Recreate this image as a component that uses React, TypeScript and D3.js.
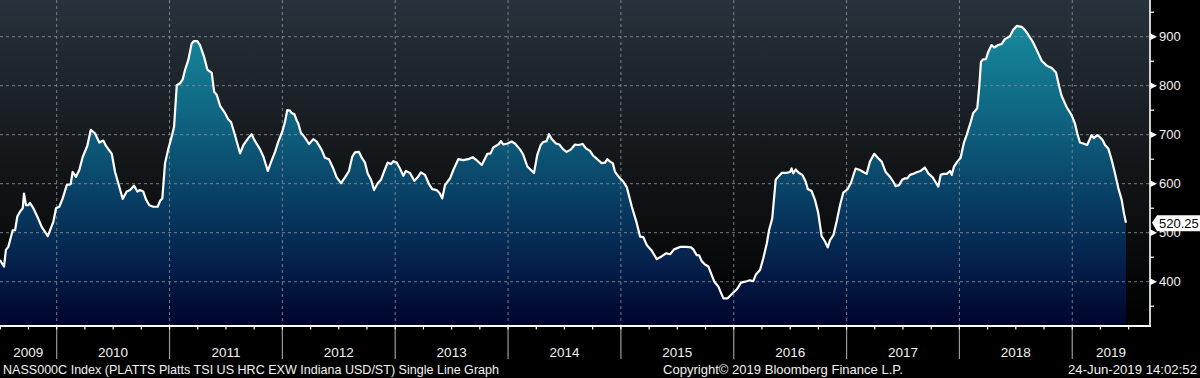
import React from "react";
import * as d3 from "d3";

// ---- data (decimal years, USD/ST) ----
const dates: number[] = [
  2009.497, 2009.533, 2009.55, 2009.571, 2009.61, 2009.631, 2009.651, 2009.675, 2009.699, 2009.71, 2009.728, 2009.748, 2009.763, 2009.793, 2009.828, 2009.867, 2009.921, 2009.97, 2009.994,
  2010.023, 2010.053, 2010.089, 2010.124, 2010.141, 2010.171, 2010.2, 2010.231, 2010.271, 2010.302, 2010.339, 2010.378, 2010.413, 2010.437, 2010.488, 2010.517, 2010.546, 2010.585, 2010.62, 2010.65, 2010.685, 2010.715, 2010.738, 2010.767, 2010.791, 2010.821, 2010.856, 2010.895, 2010.916, 2010.936, 2010.96, 2010.99,
  2011.019, 2011.04, 2011.064, 2011.093, 2011.117, 2011.137, 2011.166, 2011.196, 2011.217, 2011.246, 2011.27, 2011.306, 2011.335, 2011.374, 2011.395, 2011.419, 2011.448, 2011.492, 2011.521, 2011.545, 2011.575, 2011.625, 2011.655, 2011.698, 2011.728, 2011.752, 2011.802, 2011.832, 2011.871, 2011.906, 2011.935, 2011.964,
  2011.999, 2012.023, 2012.043, 2012.067, 2012.082, 2012.106, 2012.127, 2012.141, 2012.164, 2012.2, 2012.236, 2012.274, 2012.304, 2012.348, 2012.377, 2012.413, 2012.451, 2012.481, 2012.52, 2012.555, 2012.59, 2012.619, 2012.643, 2012.679, 2012.703, 2012.732, 2012.756, 2012.786, 2012.812, 2012.845, 2012.874, 2012.903, 2012.933, 2012.963, 2012.983,
  2013.013, 2013.042, 2013.072, 2013.093, 2013.131, 2013.169, 2013.199, 2013.228, 2013.264, 2013.3, 2013.328, 2013.367, 2013.396, 2013.417, 2013.441, 2013.47, 2013.486, 2013.515, 2013.559, 2013.603, 2013.647, 2013.686, 2013.722, 2013.767, 2013.817, 2013.846, 2013.869, 2013.914, 2013.937, 2013.958,
  2013.994, 2014.032, 2014.061, 2014.106, 2014.135, 2014.171, 2014.203, 2014.23, 2014.259, 2014.289, 2014.312, 2014.342, 2014.363, 2014.387, 2014.424, 2014.454, 2014.489, 2014.519, 2014.558, 2014.593, 2014.623, 2014.661, 2014.69, 2014.726, 2014.755, 2014.791, 2014.83, 2014.86, 2014.88, 2014.904, 2014.928, 2014.948,
  2014.992, 2015.022, 2015.052, 2015.097, 2015.14, 2015.17, 2015.199, 2015.229, 2015.274, 2015.318, 2015.363, 2015.4, 2015.436, 2015.471, 2015.524, 2015.583, 2015.622, 2015.642, 2015.672, 2015.693, 2015.716, 2015.745, 2015.775, 2015.799, 2015.828, 2015.864, 2015.908, 2015.946,
  2015.987, 2016.026, 2016.065, 2016.115, 2016.144, 2016.173, 2016.195, 2016.233, 2016.262, 2016.293, 2016.313, 2016.341, 2016.372, 2016.395, 2016.425, 2016.47, 2016.499, 2016.513, 2016.527, 2016.549, 2016.578, 2016.608, 2016.638, 2016.656, 2016.69, 2016.72, 2016.749, 2016.779, 2016.809, 2016.833, 2016.853, 2016.883, 2016.913, 2016.942,
  2016.971, 2017.01, 2017.039, 2017.08, 2017.118, 2017.148, 2017.178, 2017.207, 2017.245, 2017.28, 2017.311, 2017.346, 2017.385, 2017.414, 2017.435, 2017.465, 2017.493, 2017.517, 2017.538, 2017.562, 2017.597, 2017.626, 2017.656, 2017.694, 2017.724, 2017.763, 2017.792, 2017.813, 2017.834, 2017.857, 2017.888, 2017.917, 2017.932, 2017.952,
  2017.981, 2018.011, 2018.04, 2018.064, 2018.1, 2018.122, 2018.158, 2018.176, 2018.191, 2018.211, 2018.235, 2018.255, 2018.285, 2018.308, 2018.344, 2018.374, 2018.403, 2018.448, 2018.477, 2018.508, 2018.551, 2018.58, 2018.61, 2018.649, 2018.685, 2018.729, 2018.774, 2018.818, 2018.856, 2018.885, 2018.906, 2018.951,
  2018.994, 2019.024, 2019.044, 2019.068, 2019.098, 2019.132, 2019.15, 2019.171, 2019.192, 2019.221, 2019.245, 2019.269, 2019.29, 2019.319, 2019.35, 2019.379, 2019.408, 2019.438, 2019.458, 2019.476,
];

const prices: number[] = [
  444, 431, 465, 471, 505, 505, 533, 543, 550, 580, 556, 556, 561, 550, 533, 512, 493, 522, 550,
  553, 570, 597, 599, 624, 614, 628, 655, 677, 710, 703, 684, 688, 677, 661, 624, 601, 569, 584, 587, 596, 584, 587, 584, 568, 556, 553, 553, 565, 570, 642, 672,
  696, 716, 801, 805, 813, 832, 852, 886, 891, 891, 883, 859, 833, 826, 788, 781, 759, 744, 731, 726, 703, 662, 679, 693, 701, 689, 670, 655, 626, 648, 665, 686,
  706, 726, 750, 749, 744, 742, 729, 723, 704, 694, 681, 691, 686, 669, 653, 650, 631, 613, 601, 613, 626, 655, 664, 665, 653, 643, 621, 608, 587, 601, 608, 626, 643, 640, 646,
  643, 631, 616, 626, 622, 606, 613, 623, 618, 599, 589, 587, 580, 570, 597, 606, 611, 628, 650, 648, 650, 654, 648, 638, 661, 662, 674, 680, 687, 680,
  682, 686, 682, 670, 659, 635, 628, 622, 659, 679, 685, 687, 701, 691, 682, 680, 670, 665, 670, 680, 679, 681, 672, 667, 657, 650, 642, 643, 650, 645, 642, 624,
  611, 604, 593, 553, 520, 492, 491, 475, 463, 446, 452, 458, 456, 466, 471, 471, 470, 466, 454, 454, 442, 435, 431, 417, 400, 390, 366, 366,
  376, 384, 398, 401, 403, 401, 414, 424, 448, 478, 505, 529, 608, 614, 622, 622, 624, 631, 621, 629, 622, 618, 604, 589, 585, 567, 540, 493, 482, 470, 485, 495, 524, 556,
  582, 589, 602, 631, 628, 624, 620, 645, 661, 652, 645, 624, 614, 604, 595, 597, 608, 611, 611, 618, 621, 624, 626, 633, 621, 613, 602, 594, 618, 620, 620, 626, 618, 635,
  645, 653, 684, 699, 726, 744, 754, 798, 849, 854, 854, 869, 883, 878, 883, 885, 895, 901, 914, 922, 920, 914, 904, 890, 873, 851, 841, 836, 827, 798, 779, 756,
  740, 723, 703, 684, 682, 679, 688, 699, 693, 699, 695, 689, 679, 672, 648, 621, 591, 567, 540, 520.25,
];

const yMajorTicks = [400, 500, 600, 700, 800, 900];
const yMinorTicks = [350, 450, 550, 650, 750, 850, 950];
const yearLabels = ["2009", "2010", "2011", "2012", "2013", "2014", "2015", "2016", "2017", "2018", "2019"];
const lastValueLabel = "520.25";
const footerLeft = "NASS000C Index (PLATTS Platts TSI US HRC EXW Indiana USD/ST) Single Line Graph";
const footerMid = "Copyright\u00A9 2019 Bloomberg Finance L.P.";
const footerRight = "24-Jun-2019 14:02:52";

// ---- layout ----
const W = 1200;
const H = 378;
const PR = 1150; // plot right
const PB = 326; // plot bottom
const FONT = "'Liberation Sans', Arial, sans-serif";

export default function App() {
  const x = d3.scaleLinear().domain([2009.4975, 2019.689]).range([0, PR]);
  const y = d3.scaleLinear().domain([309.6, 974.9]).range([PB, 0]);

  const pts = dates.map((d, i) => [d, prices[i]] as [number, number]);
  const area = d3
    .area<[number, number]>()
    .x((d) => x(d[0]))
    .y0(PB)
    .y1((d) => y(d[1]))(pts) as string;
  const line = d3
    .line<[number, number]>()
    .x((d) => x(d[0]))
    .y((d) => y(d[1]))(pts) as string;

  const [x0, x1] = x.domain();
  const years = yearLabels.map((s) => +s);
  const quarters: number[] = [];
  for (let yr = 2009; yr <= 2019; yr++) for (let q = 0; q < 4; q++) {
    const t = yr + q / 4;
    if (t > x0 && t < x1) quarters.push(t);
  }
  const lastY = y(prices[prices.length - 1]);

  return (
    <div style={{ position: "fixed", left: 0, top: 0, width: W, height: H, background: "#000" }}>
      <svg width={W} height={H} style={{ display: "block" }}>
        <defs>
          <linearGradient id="bg" x1="0" y1="0" x2="0" y2={PB} gradientUnits="userSpaceOnUse">
            <stop offset="0" stopColor="#27323c" />
            <stop offset="0.5" stopColor="#131619" />
            <stop offset="1" stopColor="#000000" />
          </linearGradient>
          <linearGradient id="fill" x1="0" y1="20" x2="0" y2={PB} gradientUnits="userSpaceOnUse">
            <stop offset="0" stopColor="#178c9e" />
            <stop offset="0.35" stopColor="#0e607e" />
            <stop offset="0.6" stopColor="#083c62" />
            <stop offset="0.82" stopColor="#041d48" />
            <stop offset="1" stopColor="#00042c" />
          </linearGradient>
        </defs>
        <rect x={0} y={0} width={W} height={H} fill="#000" />
        <rect x={0} y={0} width={PR} height={PB} fill="url(#bg)" />
        <path d={area} fill="url(#fill)" />
        {/* grid */}
        {yMajorTicks.map((v) => (
          <line key={"gy" + v} x1={0} x2={PR} y1={y(v)} y2={y(v)} stroke="#8a9198" strokeWidth={1} strokeDasharray="3 3" opacity={0.85} />
        ))}
        {years.filter((t) => t > x0 && t < x1).map((t) => (
          <line key={"gx" + t} x1={x(t)} x2={x(t)} y1={0} y2={PB} stroke="#8a9198" strokeWidth={1} strokeDasharray="3 3" opacity={0.85} />
        ))}
        <path d={line} fill="none" stroke="#ffffff" strokeWidth={2.2} strokeLinejoin="round" />
        {/* bottom axis */}
        {years.filter((t) => t > x0 && t < x1).map((t) => (
          <line key={"sep" + t} x1={x(t)} x2={x(t)} y1={PB} y2={359} stroke="#9a9a9a" strokeWidth={1.2} />
        ))}
        {quarters.map((t) => (
          <line key={"q" + t} x1={x(t)} x2={x(t)} y1={PB} y2={PB + 3.5} stroke="#fff" strokeWidth={1.2} />
        ))}
        <line x1={0} x2={PR + 1} y1={PB} y2={PB} stroke="#fff" strokeWidth={1.8} />
        {years.map((yr) => {
          const a = Math.max(yr, x0);
          const b = Math.min(yr + 1, x1);
          return (
            <text key={"yl" + yr} x={(x(a) + x(b)) / 2} y={357} textAnchor="middle" fill="#f2f2f2" fontFamily={FONT} fontSize={13.5}>
              {String(yr)}
            </text>
          );
        })}
        {/* right axis */}
        <line x1={PR} x2={PR} y1={0} y2={PB} stroke="#fff" strokeWidth={1.6} />
        {yMinorTicks.map((v) => (
          <line key={"mt" + v} x1={PR} x2={PR + 4} y1={y(v)} y2={y(v)} stroke="#fff" strokeWidth={1.2} />
        ))}
        {yMajorTicks.map((v) => (
          <g key={"yt" + v}>
            <path d={`M${PR},${y(v) - 3.5}L${PR + 7},${y(v)}L${PR},${y(v) + 3.5}Z`} fill="#fff" />
            <text x={PR + 9} y={y(v) + 4.7} fill="#f2f2f2" fontFamily={FONT} fontSize={13}>
              {String(v)}
            </text>
          </g>
        ))}
        {/* last value tag */}
        <path
          d={`M${PR + 2},${lastY}L${PR + 7},${lastY - 7.5}L${W},${lastY - 7.5}L${W},${lastY + 8.5}L${PR + 7},${lastY + 8.5}Z`}
          fill="#ffffff"
        />
        <text x={PR + 9} y={lastY + 5} fill="#000" fontFamily={FONT} fontSize={13}>
          {lastValueLabel}
        </text>
        {/* footer */}
        <text x={3} y={373.5} fill="#f2f2f2" fontFamily={FONT} fontSize={13} textLength={496} lengthAdjust="spacingAndGlyphs">
          {footerLeft}
        </text>
        <text x={663} y={373.5} fill="#f2f2f2" fontFamily={FONT} fontSize={13} textLength={240} lengthAdjust="spacingAndGlyphs">
          {footerMid}
        </text>
        <text x={1068} y={373.5} fill="#f2f2f2" fontFamily={FONT} fontSize={13} textLength={129} lengthAdjust="spacingAndGlyphs">
          {footerRight}
        </text>
      </svg>
    </div>
  );
}
